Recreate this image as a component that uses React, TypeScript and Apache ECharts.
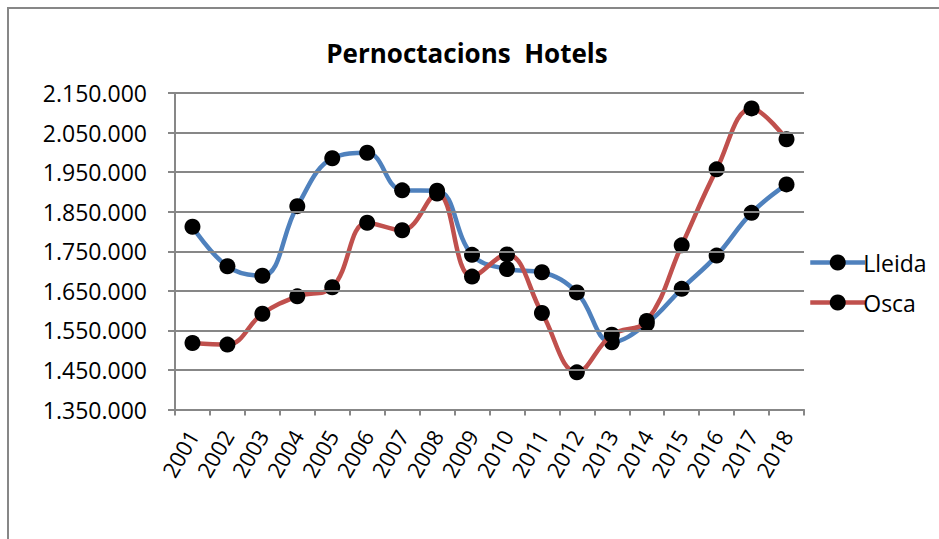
import React, { useEffect, useRef } from "react";
import * as echarts from "echarts";

const years = ["2001","2002","2003","2004","2005","2006","2007","2008","2009","2010","2011","2012","2013","2014","2015","2016","2017","2018"];
const lleida = [1812000,1712000,1688000,1864000,1985000,1999000,1904000,1903000,1741000,1705000,1697000,1646000,1520000,1567000,1655000,1739000,1847000,1919000];
const osca = [1518000,1514000,1592000,1636000,1659000,1822000,1803000,1896000,1686000,1742000,1594000,1444000,1539000,1574000,1765000,1957000,2111000,2033000];
const tickValues = [1350000,1450000,1550000,1650000,1750000,1850000,1950000,2050000,2150000];
const gridValues = [1450000,1550000,1650000,1750000,1850000,1950000,2050000,2150000];

const FONT = "Open Sans";
const fmt = (v: number) => String(Math.round(v)).replace(/\B(?=(\d{3})+(?!\d))/g, ".");

export default function App() {
  const ref = useRef<HTMLDivElement>(null);
  useEffect(() => {
    if (!ref.current) return;
    const chart = echarts.init(ref.current, null, { renderer: "svg" });
    chart.setOption({
      animation: false,
      backgroundColor: "#ffffff",
      textStyle: { fontFamily: FONT },
      title: {
        text: "Pernoctacions  Hotels",
        left: 462,
        textAlign: "center",
        top: 35,
        textStyle: { fontFamily: FONT, fontSize: 26, fontWeight: "bold", color: "#000" },
      },
      graphic: [
        {
          type: "rect",
          shape: { x: 8, y: 8, width: 1000, height: 1000 },
          style: { fill: "none", stroke: "#878787", lineWidth: 2 },
          silent: true,
        },
      ],
      legend: {
        orient: "vertical",
        left: 803,
        top: 246,
        itemWidth: 55,
        itemHeight: 20,
        itemGap: 17,
        data: ["Lleida", "Osca"],
        lineStyle: { width: 4.5 },
        textStyle: { fontFamily: FONT, fontSize: 23, color: "#000", padding: [0, 0, 0, -7] },
      },
      grid: { left: 175, right: 135, top: 93, bottom: 129.5, containLabel: false },
      xAxis: {
        type: "category",
        data: years,
        boundaryGap: true,
        axisLine: { lineStyle: { color: "#878787", width: 2 } },
        axisTick: { show: true, length: 6, lineStyle: { color: "#878787", width: 2 } },
        axisLabel: { rotate: 60, interval: 0, margin: 22, fontFamily: FONT, fontSize: 22, color: "#000" },
        splitLine: { show: false },
      },
      yAxis: {
        type: "value",
        min: 1350000,
        max: 2150000,
        interval: 50000,
        axisLine: { show: true, lineStyle: { color: "#878787", width: 2 } },
        axisTick: { show: true, length: 7, customValues: tickValues, lineStyle: { color: "#878787", width: 2 } },
        axisLabel: {
          customValues: tickValues,
          margin: 28,
          fontFamily: FONT,
          fontSize: 23,
          color: "#000",
          formatter: (v: number) => ((v - 1350000) % 100000 === 0 ? fmt(v) : ""),
        },
        splitLine: { show: false },
      },
      series: [
        {
          name: "grid",
          type: "line",
          data: [],
          z: 1,
          silent: true,
          markLine: {
            silent: true,
            symbol: "none",
            label: { show: false },
            lineStyle: { color: "#878787", width: 2, type: "solid" },
            data: gridValues.map((v) => ({ yAxis: v })),
          },
        },
        {
          name: "Lleida",
          type: "line",
          data: lleida,
          smooth: 0.4,
          z: 3,
          symbol: "circle",
          symbolSize: 16,
          lineStyle: { color: "#4F81BD", width: 4.5 },
          itemStyle: { color: "#000000" },
          color: "#4F81BD",
        },
        {
          name: "Osca",
          type: "line",
          data: osca,
          smooth: 0.4,
          z: 4,
          symbol: "circle",
          symbolSize: 16,
          lineStyle: { color: "#C0504D", width: 4.5 },
          itemStyle: { color: "#000000" },
          color: "#C0504D",
        },
      ],
    });
    return () => chart.dispose();
  }, []);
  return <div ref={ref} style={{ position: "fixed", left: 0, top: 0, width: 939, height: 539 }} />;
}
